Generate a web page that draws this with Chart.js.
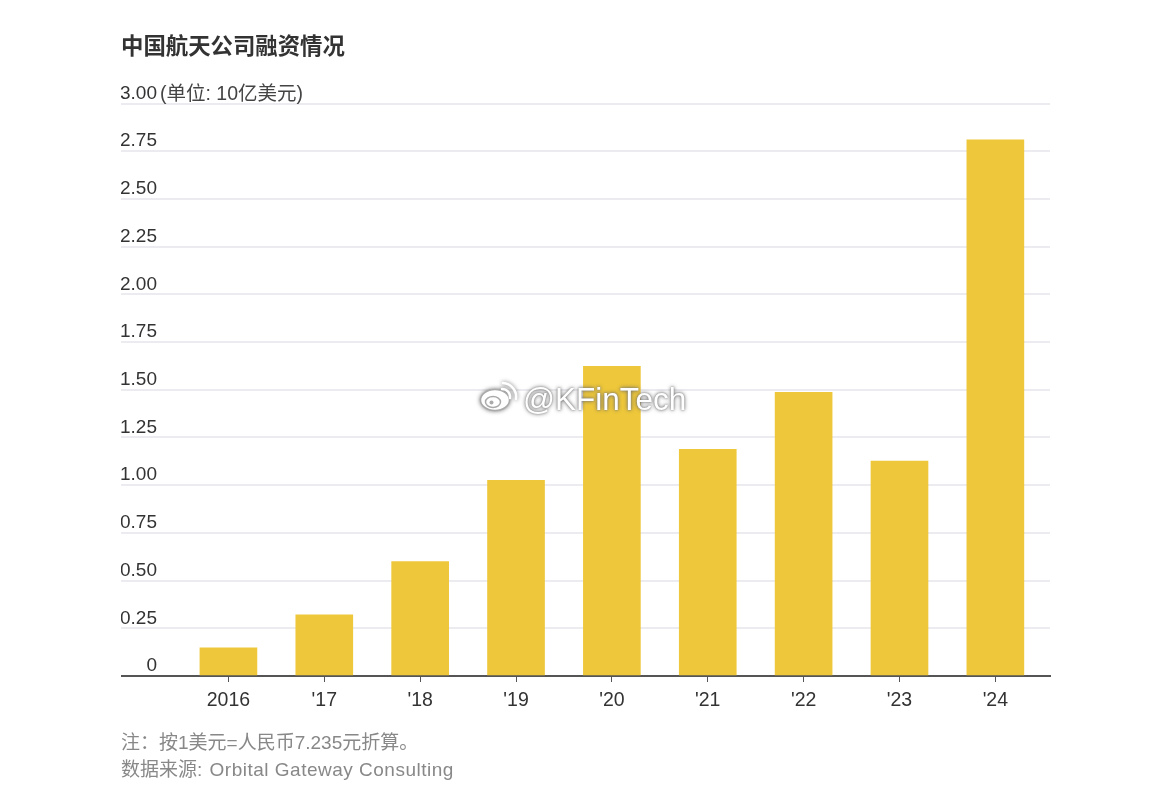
<!DOCTYPE html>
<html lang="zh">
<head>
<meta charset="utf-8">
<script src="https://cdn.jsdelivr.net/npm/chart.js@4"></script>
<style>
html,body{margin:0;padding:0;background:#fff;width:1170px;height:794px;overflow:hidden}
body{position:relative;font-family:"Liberation Sans","Noto Sans CJK SC",sans-serif}
#c{position:absolute;left:0;top:0}
.t{position:absolute;white-space:nowrap}
#title{left:121px;top:34px;font-size:22.4px;line-height:26px;font-weight:700;color:#333}
#unit{left:160px;top:81px;font-size:19.5px;line-height:24px;color:#444}
#note{left:121px;top:729px;font-size:19px;line-height:27px;color:#888}
#note span{letter-spacing:.5px;margin-left:2px}
#mark{left:523px;top:379px;font-size:31.5px;line-height:40px;color:#fff;text-shadow:0 0 4px #666,0 0 2px #888}
#logo{position:absolute;left:478px;top:378px}
</style>
</head>
<body>
<canvas id="c" width="1170" height="794"></canvas>
<div class="t" id="title">中国航天公司融资情况</div>
<div class="t" id="unit">(单位: 10亿美元)</div>
<div class="t" id="note">注：按1美元=人民币7.235元折算。<br>数据来源: <span>Orbital Gateway Consulting</span></div>
<svg id="logo" width="42" height="36" viewBox="0 0 42 36" fill="none" style="filter:drop-shadow(0 0 2px #777)">
<ellipse cx="17" cy="22" rx="14.5" ry="10.5" fill="#fff" stroke="#aaa" stroke-width="1.5"/>
<ellipse cx="15" cy="24" rx="7.5" ry="5.5" fill="#fff" stroke="#aaa" stroke-width="1.5"/>
<circle cx="13.5" cy="24.5" r="2" fill="#aaa"/>
<path d="M24 11a8 8 0 0 1 8 9M25 5a14 14 0 0 1 13 16" stroke="#fff" stroke-width="2.5" stroke-linecap="round"/>
</svg>
<div class="t" id="mark">@KFinTech</div>
<script>
const categories = ['2016', "'17", "'18", "'19", "'20", "'21", "'22", "'23", "'24"];
const funding = [0.147, 0.32, 0.60, 1.026, 1.623, 1.188, 1.487, 1.126, 2.81];
const yMax = 3;
const yStep = 0.25;
const fontFamily = '"Liberation Sans","Noto Sans CJK SC",sans-serif';

Chart.defaults.font.family = fontFamily;
new Chart(document.getElementById('c'), {
  type: 'bar',
  data: {
    datasets: [{
      data: funding.map((v, i) => ({x: i, y: v})),
      backgroundColor: '#eec73a',
      barThickness: 57,
      borderWidth: 0
    }]
  },
  options: {
    responsive: false,
    animation: false,
    layout: {padding: {left: 121, right: 120, top: 103.5, bottom: 78}},
    plugins: {legend: {display: false}, tooltip: {enabled: false}, title: {display: false}},
    scales: {
      x: {
        type: 'linear',
        offset: false,
        min: -0.745,
        max: 8.57,
        afterBuildTicks: s => { s.ticks = categories.map((_, i) => ({value: i})); },
        afterFit: s => { s.height = 40; },
        grid: {offset: false, drawOnChartArea: false, drawTicks: true, tickLength: 6, tickColor: '#555', tickWidth: 1},
        border: {display: true, color: '#555', width: 2},
        ticks: {
          autoSkip: false, maxRotation: 0, minRotation: 0, padding: 7,
          color: '#333', font: {size: 19.5},
          callback: v => categories[v]
        }
      },
      y: {
        min: 0,
        max: yMax,
        afterFit: s => { s.width = 36; },
        grid: {
          color: c => c.tick && c.tick.value === 0 ? '#555' : '#ebebf0',
          tickColor: c => c.tick && c.tick.value === 0 ? '#555' : '#ebebf0',
          lineWidth: 2,
          tickWidth: 2,
          tickLength: 36,
          drawTicks: true
        },
        border: {display: false},
        ticks: {
          stepSize: yStep,
          padding: -36,
          color: '#333',
          font: {size: 19, lineHeight: 1.05},
          callback: v => [v === 0 ? '0' : v.toFixed(2), '']
        }
      }
    }
  }
});
</script>
</body>
</html>
